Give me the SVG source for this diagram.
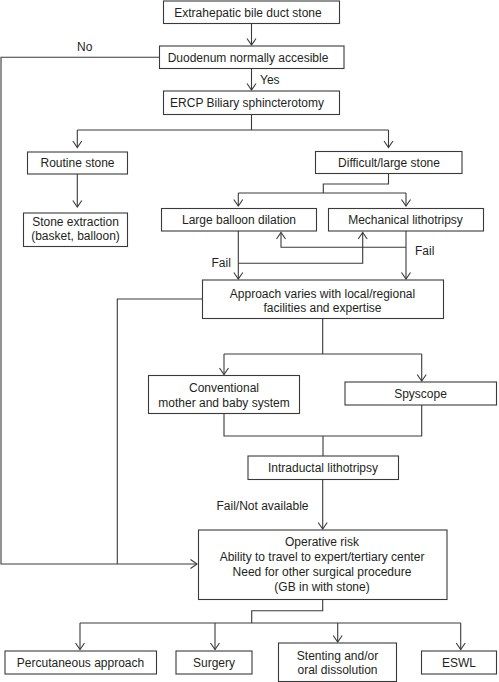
<svg xmlns="http://www.w3.org/2000/svg" width="499" height="682" viewBox="0 0 499 682">
<defs>
<style>
.box{fill:#fff;stroke:#3a3a3a;stroke-width:1.1}
.ln{fill:none;stroke:#3a3a3a;stroke-width:1.1}
.ar{marker-end:url(#arr)}
text{font-family:"Liberation Sans",Arial,sans-serif;font-size:12px;fill:#231f20;text-anchor:middle}
.lbl{text-anchor:start}
</style>
<marker id="arr" viewBox="-8 -6 10 12" refX="0" refY="0" markerWidth="10" markerHeight="12" markerUnits="userSpaceOnUse" orient="auto">
<path d="M-6.5,-4.5 L0,0 L-6.5,4.5" fill="none" stroke="#3a3a3a" stroke-width="1.1"/>
</marker>
</defs>
<rect width="499" height="682" fill="#fff"/>
<g id="connectors">
<path class="ln ar" d="M251.5,23.5 V45"/>
<path class="ln ar" d="M159.5,57.3 H1 V564 H197"/>
<path class="ln" d="M202.5,299 H117.3 V564"/>
<path class="ln ar" d="M251.5,68.5 V90"/>
<path class="ln" d="M251.5,114.5 V130 M77.3,130 H388.5"/>
<path class="ln ar" d="M77.3,130 V147.5"/>
<path class="ln ar" d="M388.5,130 V147.5"/>
<path class="ln ar" d="M77.3,174 V207"/>
<path class="ln" d="M388.5,173.5 V184 H323.3 V193 M238.3,193 H406"/>
<path class="ln ar" d="M238.3,193 V206"/>
<path class="ln ar" d="M406,193 V206"/>
<path class="ln ar" d="M238.3,231 V279"/>
<path class="ln ar" d="M406,231 V279"/>
<path class="ln ar" d="M406,247.3 H281 V232.5"/>
<path class="ln ar" d="M238.3,263.3 H362.7 V232.5"/>
<path class="ln" d="M322.7,318.5 V354 M224,354 H421.7"/>
<path class="ln ar" d="M224,354 V374.5"/>
<path class="ln ar" d="M421.7,354 V381"/>
<path class="ln" d="M224,413.5 V436 H421.7 V405 M323,436 V456"/>
<path class="ln ar" d="M322.7,479.5 V529"/>
<path class="ln" d="M322.7,599.5 V610.7 H251.7 V623 M80,623 H460.7"/>
<path class="ln ar" d="M80,623 V649.5"/>
<path class="ln ar" d="M215,623 V649.5"/>
<path class="ln ar" d="M337.7,623 V642"/>
<path class="ln ar" d="M460.7,623 V649.5"/>
<text class="lbl" x="77" y="50.5">No</text>
<text class="lbl" x="260" y="83.5">Yes</text>
<text class="lbl" x="415" y="254.5">Fail</text>
<text class="lbl" x="211.5" y="266.5">Fail</text>
<text class="lbl" x="216.5" y="509.5">Fail/Not available</text>
</g>
<g id="n1"><rect class="box" x="163.5" y="1" width="176" height="22.5"/><text x="248" y="16.5">Extrahepatic bile duct stone</text></g>
<g id="n2"><rect class="box" x="159.5" y="46" width="184.5" height="22.5"/><text x="248" y="61.5">Duodenum normally accesible</text></g>
<g id="n3"><rect class="box" x="163.5" y="91" width="176" height="23.5"/><text x="247" y="106.5">ERCP Biliary sphincterotomy</text></g>
<g id="n4"><rect class="box" x="27.5" y="152" width="100" height="22"/><text x="77.5" y="167">Routine stone</text></g>
<g id="n5"><rect class="box" x="315.5" y="151.5" width="146.5" height="22"/><text x="389" y="166.5">Difficult/large stone</text></g>
<g id="n6"><rect class="box" x="23.5" y="213" width="104" height="33.5"/><text x="75.5" y="226">Stone extraction</text><text x="75.5" y="240">(basket, balloon)</text></g>
<g id="n7"><rect class="box" x="161.5" y="208.5" width="155" height="22.5"/><text x="239" y="224">Large balloon dilation</text></g>
<g id="n8"><rect class="box" x="328.5" y="208.5" width="155" height="22.5"/><text x="405.5" y="224">Mechanical lithotripsy</text></g>
<g id="n9"><rect class="box" x="202.5" y="280" width="241" height="38.5"/><text x="322.5" y="297.5">Approach varies with local/regional</text><text x="322.5" y="311.5">facilities and expertise</text></g>
<g id="n10"><rect class="box" x="148.5" y="375.5" width="151" height="38"/><text x="224" y="392">Conventional</text><text x="224" y="406.5">mother and baby system</text></g>
<g id="n11"><rect class="box" x="345" y="382" width="151.5" height="23"/><text x="420.5" y="397.5">Spyscope</text></g>
<g id="n12"><rect class="box" x="248" y="456" width="150.5" height="23.5"/><text x="323" y="472">Intraductal lithotripsy</text></g>
<g id="n13"><rect class="box" x="198.5" y="530" width="248.5" height="69.5"/><text x="322" y="546">Operative risk</text><text x="322" y="561">Ability to travel to expert/tertiary center</text><text x="322" y="576">Need for other surgical procedure</text><text x="322" y="590.5">(GB in with stone)</text></g>
<g id="n14"><rect class="box" x="5" y="651" width="151.5" height="23"/><text x="80.5" y="666.5">Percutaneous approach</text></g>
<g id="n15"><rect class="box" x="176" y="651" width="76" height="23"/><text x="214" y="666.5">Surgery</text></g>
<g id="n16"><rect class="box" x="278.5" y="643" width="118" height="38.5"/><text x="337.5" y="660">Stenting and/or</text><text x="337.5" y="674">oral dissolution</text></g>
<g id="n17"><rect class="box" x="421.5" y="651" width="75" height="23"/><text x="459" y="666.5">ESWL</text></g>
</svg>
